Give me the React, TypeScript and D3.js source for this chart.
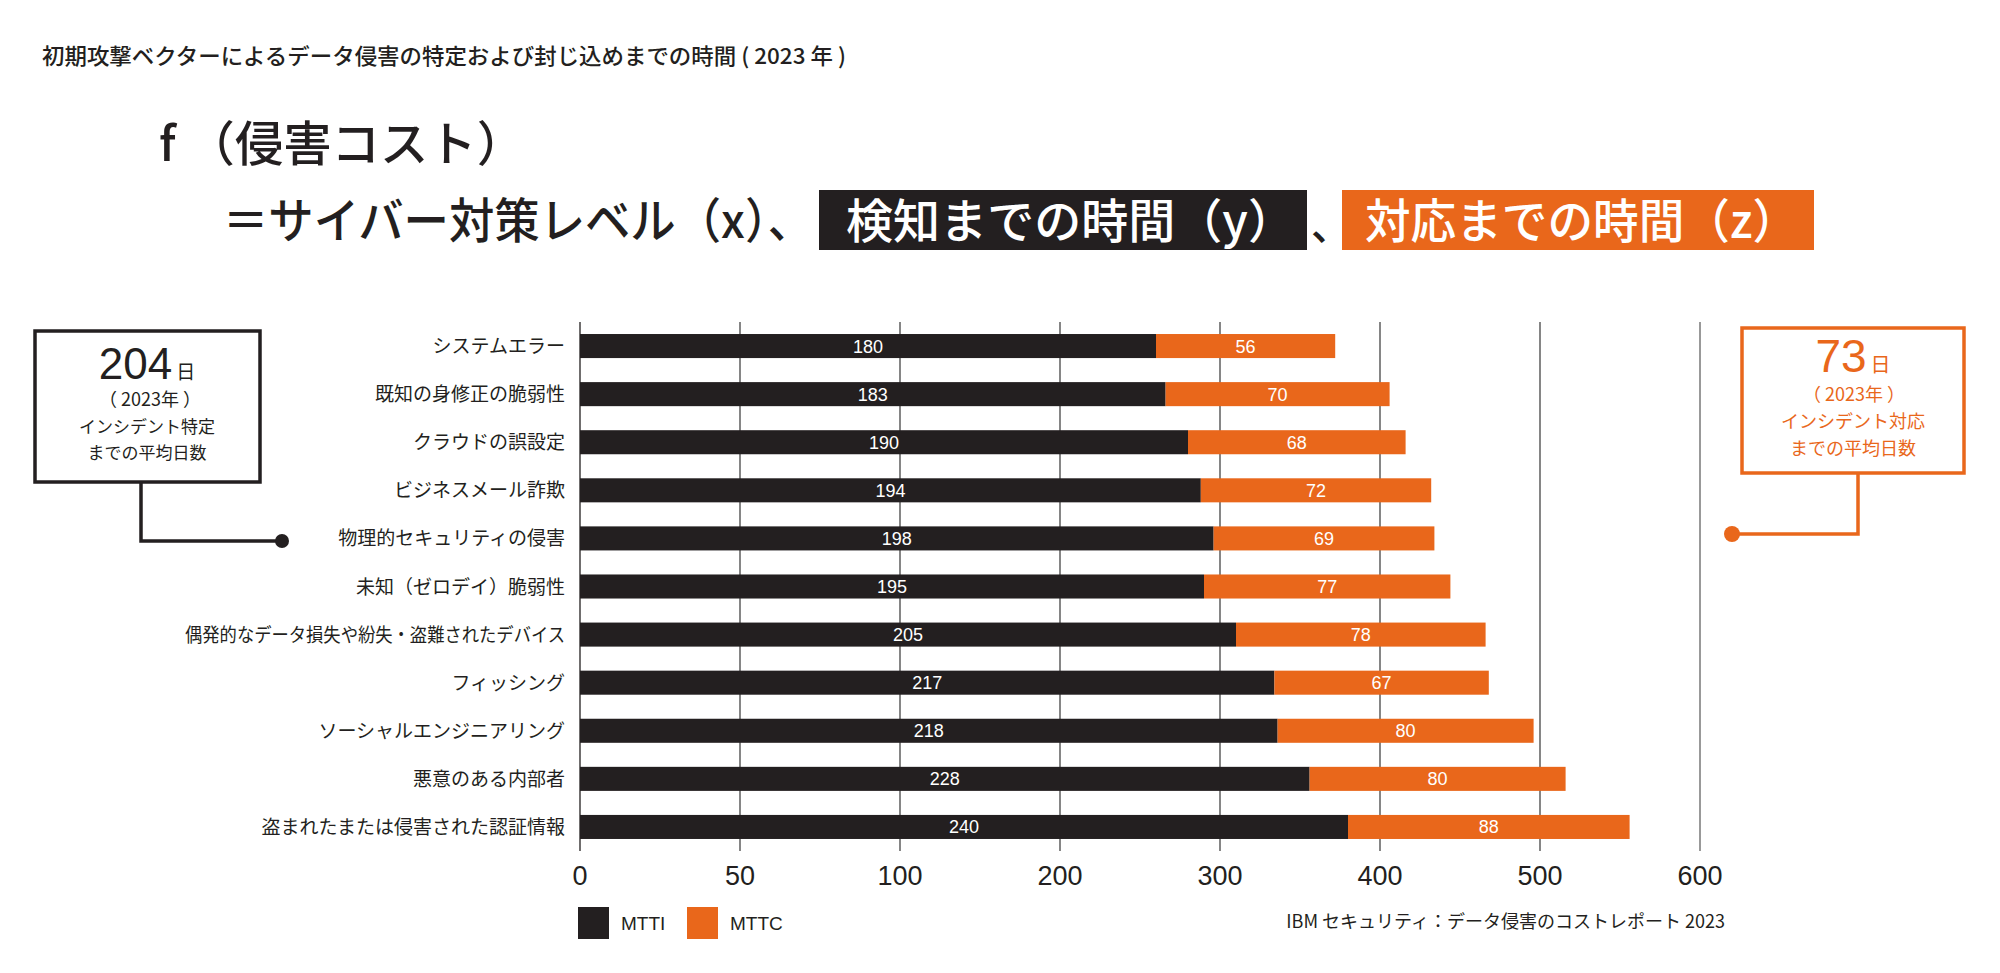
import * as d3 from 'd3';

const categories = [
  'システムエラー',
  '既知の身修正の脆弱性',
  'クラウドの誤設定',
  'ビジネスメール詐欺',
  '物理的セキュリティの侵害',
  '未知（ゼロデイ）脆弱性',
  '偶発的なデータ損失や紛失・盗難されたデバイス',
  'フィッシング',
  'ソーシャルエンジニアリング',
  '悪意のある内部者',
  '盗まれたまたは侵害された認証情報',
];
const mtti = [180, 183, 190, 194, 198, 195, 205, 217, 218, 228, 240];
const mttc = [56, 70, 68, 72, 69, 77, 78, 67, 80, 80, 88];
const tickLabels = ['0', '50', '100', '200', '300', '400', '500', '600'];
const seriesKeys = ['MTTI', 'MTTC'];

const BLACK = '#231f20';
const ORANGE = '#e9671b';
const JP = '"Noto Sans CJK JP", sans-serif';
const LATIN = '"Liberation Sans", Arial, "Noto Sans CJK JP", sans-serif';

type Row = { category: string; MTTI: number; MTTC: number };

export default function App() {
  const rows: Row[] = categories.map((c, i) => ({ category: c, MTTI: mtti[i], MTTC: mttc[i] }));
  const stacked = d3.stack<Row>().keys(seriesKeys)(rows);

  const x = d3.scaleLinear().domain([0, 350]).range([580, 1700]);
  const xTick = d3.scalePoint<string>().domain(tickLabels).range([580, 1700]);
  const y = d3
    .scaleBand<string>()
    .domain(categories)
    .range([322, 851])
    .paddingInner(0.5)
    .paddingOuter(0.25);
  const color = d3.scaleOrdinal<string, string>().domain(seriesKeys).range([BLACK, ORANGE]);

  return (
    <svg
      width={2000}
      height={973}
      style={{ position: 'absolute', left: 0, top: 0, background: '#fff' }}
    >
      {/* headline */}
      <text x={42} y={64} fontFamily={JP} fontSize={22} fontWeight={500} fill={BLACK} textLength={804} lengthAdjust="spacingAndGlyphs">
        初期攻撃ベクターによるデータ侵害の特定および封じ込めまでの時間 ( 2023 年 )
      </text>
      <text x={159} y={161} fontFamily={JP} fontSize={48} fontWeight={500} fill={BLACK} textLength={366} lengthAdjust="spacingAndGlyphs">
        f （侵害コスト）
      </text>
      <text x={223} y={238} fontFamily={JP} fontSize={48} fontWeight={500} fill={BLACK} textLength={590} lengthAdjust="spacingAndGlyphs">
        ＝サイバー対策レベル（x）、
      </text>
      <rect x={819} y={190} width={488} height={60} fill={BLACK} />
      <text x={846} y={238} fontFamily={JP} fontSize={47} fontWeight={500} fill="#fff" textLength={449} lengthAdjust="spacingAndGlyphs">
        検知までの時間（y）
      </text>
      <text x={1311} y={240} fontFamily={JP} fontSize={40} fontWeight={500} fill={BLACK}>
        、
      </text>
      <rect x={1342} y={190} width={472} height={60} fill={ORANGE} />
      <text x={1365} y={238} fontFamily={JP} fontSize={47} fontWeight={500} fill="#fff" textLength={433} lengthAdjust="spacingAndGlyphs">
        対応までの時間（z）
      </text>

      {/* gridlines */}
      {tickLabels.map((t, i) => (
        <line
          key={t}
          x1={xTick(t)}
          x2={xTick(t)}
          y1={y.range()[0]}
          y2={y.range()[1]}
          stroke={i === 0 ? BLACK : i === tickLabels.length - 1 ? '#999' : '#444'}
          strokeWidth={i === tickLabels.length - 1 ? 2 : 1.3}
        />
      ))}

      {/* bars */}
      {stacked.map((s) => (
        <g key={s.key} fill={color(s.key)}>
          {s.map((d) => (
            <rect
              key={d.data.category}
              x={x(d[0])}
              y={y(d.data.category)}
              width={x(d[1]) - x(d[0])}
              height={y.bandwidth()}
            />
          ))}
        </g>
      ))}
      {stacked.map((s) => (
        <g key={s.key + '-lbl'} fill="#fff" fontFamily={LATIN} fontSize={18} textAnchor="middle">
          {s.map((d) => (
            <text
              key={d.data.category}
              x={(x(d[0]) + x(d[1])) / 2}
              y={(y(d.data.category) ?? 0) + y.bandwidth() / 2 + 6.5}
            >
              {d[1] - d[0]}
            </text>
          ))}
        </g>
      ))}

      {/* category labels */}
      {categories.map((c) => {
        const long = c.length * 19 > 390;
        return (
          <text
            key={c}
            x={565}
            y={(y(c) ?? 0) + y.bandwidth() / 2 + 7}
            textAnchor="end"
            fontFamily={JP}
            fontSize={19}
            fill={BLACK}
            textLength={long ? 380 : undefined}
            lengthAdjust={long ? 'spacingAndGlyphs' : undefined}
          >
            {c}
          </text>
        );
      })}

      {/* axis labels */}
      {tickLabels.map((t) => (
        <text key={t} x={xTick(t)} y={885} textAnchor="middle" fontFamily={LATIN} fontSize={27} fill={BLACK}>
          {t}
        </text>
      ))}

      {/* legend */}
      {seriesKeys.map((k, i) => (
        <g key={k} transform={`translate(${578 + i * 109},907)`}>
          <rect width={31} height={32} fill={color(k)} />
          <text x={43} y={23} fontFamily={LATIN} fontSize={19} fill={BLACK}>
            {k}
          </text>
        </g>
      ))}
      <text x={1725} y={928} textAnchor="end" fontFamily={JP} fontSize={18} fill={BLACK}>
        IBM セキュリティ：データ侵害のコストレポート 2023
      </text>

      {/* left callout */}
      <rect x={35} y={331} width={225} height={151} fill="#fff" stroke={BLACK} strokeWidth={3.5} />
      <text x={147} y={379} textAnchor="middle" fill={BLACK} fontFamily={LATIN}>
        <tspan fontSize={44}>204</tspan>
        <tspan fontSize={19} fontFamily={JP} dx={4}>日</tspan>
      </text>
      <text x={150} y={406} textAnchor="middle" fontFamily={JP} fontSize={18} fill={BLACK}>
        （ 2023年 ）
      </text>
      <text x={147} y={433} textAnchor="middle" fontFamily={JP} fontSize={17} fill={BLACK}>
        インシデント特定
      </text>
      <text x={147} y={459} textAnchor="middle" fontFamily={JP} fontSize={17} fill={BLACK}>
        までの平均日数
      </text>
      <polyline points="141,482 141,541 282,541" fill="none" stroke={BLACK} strokeWidth={3.5} />
      <circle cx={282} cy={541} r={7} fill={BLACK} />

      {/* right callout */}
      <rect x={1742} y={328} width={222} height={145} fill="#fff" stroke={ORANGE} strokeWidth={3.5} />
      <text x={1853} y={372} textAnchor="middle" fill={ORANGE} fontFamily={LATIN}>
        <tspan fontSize={46}>73</tspan>
        <tspan fontSize={20} fontFamily={JP} dx={4}>日</tspan>
      </text>
      <text x={1854} y={401} textAnchor="middle" fontFamily={JP} fontSize={18} fill={ORANGE}>
        （ 2023年 ）
      </text>
      <text x={1853} y={428} textAnchor="middle" fontFamily={JP} fontSize={18} fill={ORANGE}>
        インシデント対応
      </text>
      <text x={1853} y={455} textAnchor="middle" fontFamily={JP} fontSize={18} fill={ORANGE}>
        までの平均日数
      </text>
      <polyline points="1858,473 1858,534 1732,534" fill="none" stroke={ORANGE} strokeWidth={3.5} />
      <circle cx={1732} cy={534} r={8} fill={ORANGE} />
    </svg>
  );
}
